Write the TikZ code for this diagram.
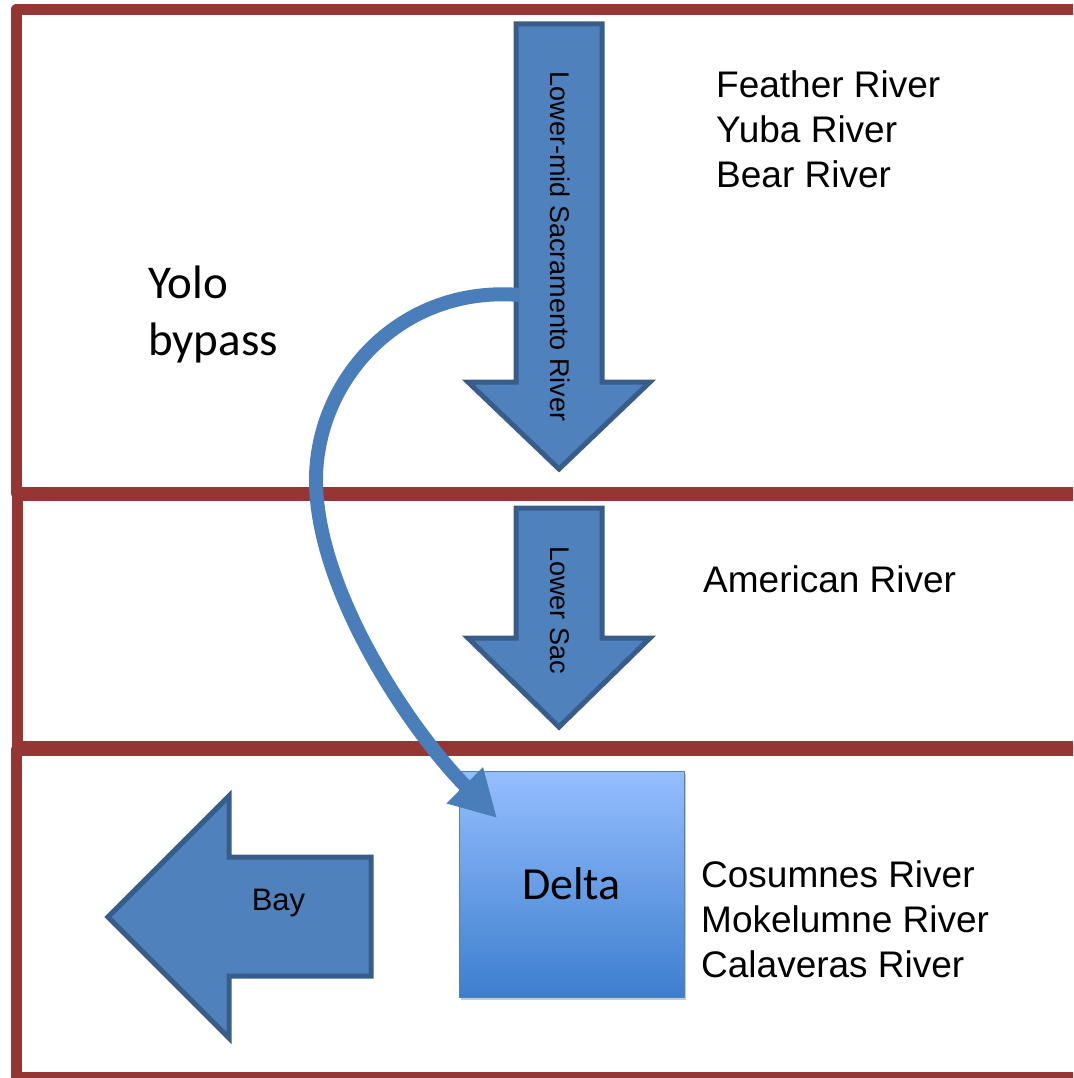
\documentclass[tikz,border=0pt]{standalone}
\usepackage{fontspec}
\setmainfont{Liberation Sans}
\newfontfamily\calibri{Carlito}
\usetikzlibrary{arrows.meta,shadows}

\definecolor{frameRed}{RGB}{150,54,52}
\definecolor{flowFill}{RGB}{79,129,189}
\definecolor{flowEdge}{RGB}{56,93,138}
\definecolor{curveBlue}{RGB}{74,126,187}
\definecolor{deltaTop}{RGB}{149,190,254}
\definecolor{deltaBottom}{RGB}{60,126,206}
\definecolor{deltaEdge}{RGB}{79,129,189}

\begin{document}
\begin{tikzpicture}[x=1pt,y=-1pt,
  band/.style={draw=frameRed, line width=11.5pt, line join=round},
  flow/.style={fill=flowFill, draw=flowEdge, line width=5pt, line join=miter},
  riverlist/.style={anchor=base west, inner sep=0pt, font=\fontsize{37}{44}\selectfont},
  flowlabel/.style={anchor=base, inner sep=0pt, rotate=-90, font=\fontsize{27}{32}\selectfont},
  yololabel/.style={anchor=base west, inner sep=0pt, font=\calibri\fontsize{47}{56}\selectfont},
  deltabox/.style={draw=deltaEdge, line width=1pt, top color=deltaTop, bottom color=deltaBottom,
    minimum width=225pt, minimum height=226pt, inner sep=0pt,
    font=\calibri\fontsize{46}{55}\selectfont,
    drop shadow={shadow xshift=2pt, shadow yshift=-3pt, opacity=0.35, fill=black!60}},
  bypass/.style={draw=curveBlue, line width=14pt, -{Triangle[length=46pt,width=48pt]}}
]
\useasboundingbox (0,0) rectangle (1073,1078);
\clip (0,0) rectangle (1073,1078);

% three reaches of the river system
\draw[band] (16.5,9.5) rectangle (1100,493);
\draw[band] (17.5,495) rectangle (1100,747);
\draw[band] (16.5,750) rectangle (1100,1077.5);

% block arrows showing the main flow
\draw[flow] (516,24) -- (602,24) -- (602,382) -- (650,382) -- (559,469)
  -- (468,382) -- (516,382) -- cycle;
\draw[flow] (516,508) -- (602,508) -- (602,638) -- (650,638) -- (559,727)
  -- (468,638) -- (516,638) -- cycle;
\draw[flow] (108,917) -- (229,796) -- (229,857) -- (371,857) -- (371,976)
  -- (229,976) -- (229,1038) -- cycle;

\node[flowlabel] (lowermid) at (550,246.5) {Lower-mid Sacramento River};
\node[flowlabel] (lowersac) at (550,610) {Lower Sac};
\node[anchor=base, inner sep=0pt, font=\fontsize{31}{37}\selectfont] (bay) at (278.5,910) {Bay};

% delta
\node[deltabox] (delta) at (571.5,884) {Delta};

% Yolo bypass route
\coordinate (bypassStart) at (520,295);
\coordinate (bypassEnd) at (497,818);
\draw[bypass] (bypassStart) .. controls (400,285) and (316,380) .. (316,480)
  .. controls (316,590) and (410,730) .. (bypassEnd);

\node[yololabel] (yolo) at (148,298) {Yolo};
\node[yololabel] (bypasslabel) at (148,355) {bypass};

% tributaries
\node[riverlist] (feather) at (716,98) {Feather River};
\node[riverlist] (yuba) at (716,142.5) {Yuba River};
\node[riverlist] (bear) at (716,187) {Bear River};
\node[riverlist] (american) at (703,592) {American River};
\node[riverlist] (cosumnes) at (701,887) {Cosumnes River};
\node[riverlist] (mokelumne) at (701,932) {Mokelumne River};
\node[riverlist] (calaveras) at (701,977) {Calaveras River};
\end{tikzpicture}
\end{document}
